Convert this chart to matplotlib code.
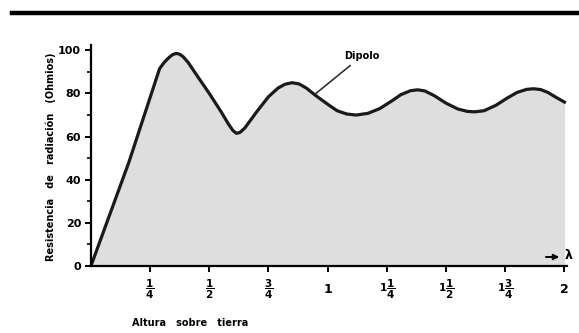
import numpy as np
import matplotlib.pyplot as plt
from matplotlib.lines import Line2D
from matplotlib.ticker import MultipleLocator

# altura sobre tierra (longitudes de onda) y resistencia de radiacion (ohmios)
altura = [0, 0.16, 0.29, 0.31, 0.33, 0.345, 0.36, 0.375, 0.39, 0.41, 0.45,
          0.50, 0.55, 0.58, 0.60, 0.615, 0.63, 0.65, 0.70, 0.75, 0.79, 0.82,
          0.85, 0.88, 0.91, 0.95, 1.00, 1.04, 1.08, 1.12, 1.17, 1.22, 1.27,
          1.31, 1.35, 1.38, 1.41, 1.45, 1.50, 1.55, 1.59, 1.62, 1.66, 1.71,
          1.76, 1.80, 1.84, 1.87, 1.90, 1.93, 1.96, 2.0]
resistencia = [0, 48, 91.5, 94.5, 96.7, 98, 98.6, 98.2, 97, 94.5, 88,
               80, 71.5, 66, 62.8, 61.5, 62, 64, 71.5, 78.5, 82.5, 84.3,
               85, 84.4, 82.5, 79, 75, 72, 70.5, 70, 70.8, 73, 76.5,
               79.5, 81.3, 81.7, 81.2, 79, 75.5, 72.8, 71.7, 71.5, 72, 74.5,
               78, 80.5, 81.9, 82.2, 81.8, 80.5, 78.5, 76]

xticks = [0.25, 0.5, 0.75, 1.0, 1.25, 1.5, 1.75, 2.0]
xlabels = [r'$\dfrac{1}{4}$', r'$\dfrac{1}{2}$', r'$\dfrac{3}{4}$', '1',
           r'$1\dfrac{1}{4}$', r'$1\dfrac{1}{2}$', r'$1\dfrac{3}{4}$', '2']
yticks = [0, 20, 40, 60, 80, 100]

plt.rcParams['font.family'] = ['DejaVu Sans']
plt.rcParams['mathtext.fontset'] = 'dejavusans'
plt.rcParams['mathtext.default'] = 'bf'

fig = plt.figure(figsize=(5.79, 3.33), dpi=100)
ax = fig.add_axes([0.157, 0.201, 0.822, 0.664])

ax.fill_between(altura, resistencia, 0, color='#dedede', lw=0)
ax.plot(altura, resistencia, color='#1a1a1a', lw=2.3, solid_joinstyle='round')

ax.set_xlim(0, 2.01)
ax.set_ylim(0, 102.5)
for s in ['top', 'right']:
    ax.spines[s].set_visible(False)
for s in ['left', 'bottom']:
    ax.spines[s].set_linewidth(1.6)

ax.set_xticks(xticks)
ax.set_xticklabels(xlabels, fontsize=7.5, fontweight='bold')
for lab in ax.get_xticklabels():
    lab.set_verticalalignment('center')
    if '$' not in lab.get_text():
        lab.set_fontsize(9)
ax.tick_params(axis='x', direction='out', length=4, width=1.4, pad=13)
ax.set_yticks(yticks)
ax.set_yticklabels([str(v) for v in yticks], fontsize=8, fontweight='bold')
ax.yaxis.set_minor_locator(MultipleLocator(10))
ax.tick_params(axis='y', which='major', direction='out', length=4, width=1.4, pad=3)
ax.tick_params(axis='y', which='minor', direction='out', length=3, width=1.2)

ax.annotate('Dipolo', xy=(0.95, 80), xytext=(1.07, 96),
            fontsize=7, fontweight='bold',
            arrowprops=dict(arrowstyle='-', color='#333333', lw=1.2,
                            shrinkA=2, shrinkB=0))
ax.annotate('', xy=(1.99, 4.2), xytext=(1.91, 4.2),
            arrowprops=dict(arrowstyle='-|>', color='black', lw=1.4,
                            mutation_scale=8))
ax.text(2.0, 5, r'$\lambda$', fontsize=9, fontweight='bold', va='center', ha='left')

fig.text(0.087, 0.53, 'Resistencia   de   radiación   (Ohmios)', rotation=90,
         fontsize=7, fontweight='bold', ha='center', va='center')
fig.text(0.328, 0.03, 'Altura   sobre   tierra', fontsize=7, fontweight='bold',
         ha='center', va='center')

fig.add_artist(Line2D([0.02, 1.0], [0.962, 0.962], transform=fig.transFigure,
                      color='black', lw=3.2))

fig.savefig('out.png', dpi=100)
